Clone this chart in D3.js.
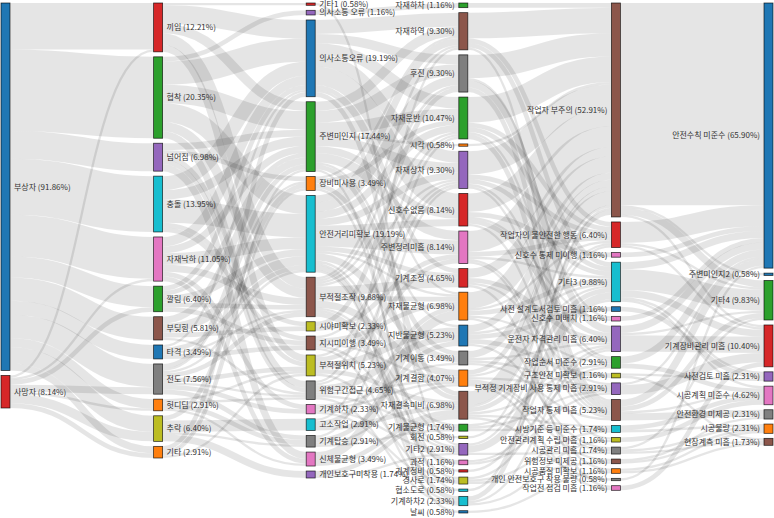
<!DOCTYPE html>
<html><head><meta charset="utf-8">
<script src="https://cdn.jsdelivr.net/npm/d3@7"></script>
<style>body{margin:0;background:#fff}svg{display:block}</style>
</head><body>
<svg id="chart" width="774" height="518"></svg>
<script>
// ---- nodes per column ----
const col1 = ["부상자","사망자"];
const col2 = ["끼임","협착","넘어짐","충돌","자재낙하","깔림","부딪힘","타격","전도","헛디딤","추락","기타"];
const col3 = ["기타1","의사소통 오류","의사소통오류","주변미인지","장비미사용","안전거리미확보","부적절조작","시야미확보","지시미이행","부적절위치","위험구간접근","기계하차","고소작업","기계탑승","신체불균형","개인보호구미착용"];
const col4 = ["자재하차","자재하역","후진","자재운반","시각","자재상차","신호수없음","주변정리미흡","기계조정","자재불균형","지반불균형","기계이동","기계결함","자재결속미비","기계불균형","회전","기타2","과적","기계정비","경사로","협소도로","기계하차2","날씨"];
const col5 = ["작업자 부주의","작업자의 불안전한 행동","신호수 통제 미이행","기타3","사전 설계도서검토 미흡","신호수 미배치","운전자 자격관리 미흡","작업순서 미준수","구조안전 미확보","부적정 기계장비 사용 통제 미흡","작업자 통제 미흡","시방기준 등 미준수","안전관리계획 수립 미흡","시공관리 미흡","위험정보 미제공","시공품질 미확보","개인 안전보호구 착용 불량","작업전 점검 미흡"];
const col6 = ["안전수칙 미준수","주변미인지2","기타4","기계장비관리 미흡","사전검토 미흡","시공계획 미준수","안전환경 미제공","시공불량","현장계측 미흡"];

// colour index into d3.schemeCategory10 (0 blue,1 orange,2 green,3 red,4 purple,5 brown,6 pink,7 gray,8 olive,9 cyan)
const col1Colors = [0,3];
const col2Colors = [3,2,4,9,6,2,5,0,7,1,8,1];
const col3Colors = [3,4,0,2,1,9,5,8,5,8,7,6,9,7,6,4];
const col4Colors = [2,5,7,2,1,4,3,6,3,1,0,7,1,5,2,8,4,6,3,8,9,9,0];
const col5Colors = [5,3,6,9,0,6,4,2,8,4,5,9,8,7,5,1,7,6];
const col6Colors = [0,0,2,3,4,6,7,1,5];

// ---- flows [source, target, count] ----
const links12 = [
 ["부상자","끼임",20],["부상자","협착",35],["부상자","넘어짐",12],["부상자","충돌",24],["부상자","자재낙하",18],["부상자","깔림",9],
 ["부상자","부딪힘",10],["부상자","타격",6],["부상자","전도",10],["부상자","헛디딤",4],["부상자","추락",7],["부상자","기타",3],
 ["사망자","끼임",1],["사망자","자재낙하",1],["사망자","깔림",2],["사망자","전도",3],["사망자","헛디딤",1],["사망자","추락",4],["사망자","기타",2]
];
const links23 = [
 ["끼임","기타1",1],["끼임","의사소통오류",8],["끼임","주변미인지",4],["끼임","부적절조작",5],["끼임","부적절위치",3],
 ["협착","의사소통 오류",2],["협착","의사소통오류",10],["협착","주변미인지",8],["협착","안전거리미확보",8],["협착","부적절조작",4],["협착","위험구간접근",3],
 ["넘어짐","주변미인지",3],["넘어짐","장비미사용",2],["넘어짐","부적절위치",2],["넘어짐","위험구간접근",2],["넘어짐","신체불균형",3],
 ["충돌","의사소통오류",6],["충돌","주변미인지",4],["충돌","안전거리미확보",10],["충돌","시야미확보",2],["충돌","지시미이행",2],
 ["자재낙하","의사소통오류",4],["자재낙하","주변미인지",3],["자재낙하","안전거리미확보",5],["자재낙하","부적절조작",3],["자재낙하","기계하차",2],["자재낙하","신체불균형",2],
 ["깔림","의사소통오류",2],["깔림","주변미인지",2],["깔림","안전거리미확보",3],["깔림","부적절조작",2],["깔림","지시미이행",2],
 ["부딪힘","주변미인지",3],["부딪힘","안전거리미확보",4],["부딪힘","시야미확보",2],["부딪힘","위험구간접근",1],
 ["타격","의사소통오류",1],["타격","안전거리미확보",2],["타격","부적절조작",1],["타격","지시미이행",2],
 ["전도","주변미인지",2],["전도","장비미사용",1],["전도","안전거리미확보",1],["전도","부적절조작",2],["전도","부적절위치",2],["전도","위험구간접근",1],["전도","기계하차",2],["전도","기계탑승",2],
 ["헛디딤","부적절위치",1],["헛디딤","위험구간접근",1],["헛디딤","기계탑승",2],["헛디딤","신체불균형",1],
 ["추락","장비미사용",2],["추락","고소작업",5],["추락","기계탑승",1],["추락","개인보호구미착용",3],
 ["기타","의사소통오류",2],["기타","주변미인지",1],["기타","장비미사용",1],["기타","부적절위치",1]
];
const links34 = [
 ["기타1","기타2",1],["의사소통 오류","자재하차",2],
 ["의사소통오류","자재하역",6],["의사소통오류","후진",4],["의사소통오류","자재운반",5],["의사소통오류","자재상차",5],["의사소통오류","신호수없음",8],["의사소통오류","기계조정",2],["의사소통오류","자재불균형",1],["의사소통오류","자재결속미비",2],
 ["주변미인지","자재하역",4],["주변미인지","후진",5],["주변미인지","자재운반",5],["주변미인지","시각",1],["주변미인지","자재상차",4],["주변미인지","신호수없음",3],["주변미인지","주변정리미흡",4],["주변미인지","지반불균형",1],["주변미인지","기계이동",2],["주변미인지","협소도로",1],
 ["장비미사용","자재하역",1],["장비미사용","자재운반",2],["장비미사용","자재결속미비",2],["장비미사용","기계정비",1],
 ["안전거리미확보","자재하역",3],["안전거리미확보","후진",4],["안전거리미확보","자재운반",3],["안전거리미확보","자재상차",3],["안전거리미확보","신호수없음",3],["안전거리미확보","주변정리미흡",6],["안전거리미확보","기계조정",2],["안전거리미확보","자재불균형",1],["안전거리미확보","기계이동",3],["안전거리미확보","회전",1],["안전거리미확보","경사로",1],["안전거리미확보","기계하차2",2],["안전거리미확보","날씨",1],
 ["부적절조작","자재하역",1],["부적절조작","후진",1],["부적절조작","자재운반",1],["부적절조작","자재상차",1],["부적절조작","기계조정",4],["부적절조작","자재불균형",2],["부적절조작","기계결함",3],["부적절조작","기계불균형",1],["부적절조작","기타2",1],["부적절조작","과적",2],
 ["시야미확보","후진",2],["시야미확보","주변정리미흡",2],
 ["지시미이행","자재상차",1],["지시미이행","자재불균형",2],["지시미이행","기계결함",1],["지시미이행","기타2",1],["지시미이행","기계하차2",1],
 ["부적절위치","자재운반",1],["부적절위치","주변정리미흡",2],["부적절위치","지반불균형",3],["부적절위치","자재결속미비",2],["부적절위치","경사로",1],
 ["위험구간접근","자재하역",1],["위험구간접근","자재상차",1],["위험구간접근","지반불균형",3],["위험구간접근","기계결함",1],["위험구간접근","기계불균형",1],["위험구간접근","기계하차2",1],
 ["기계하차","기계이동",1],["기계하차","기계결함",1],["기계하차","기타2",1],["기계하차","경사로",1],
 ["고소작업","자재운반",1],["고소작업","자재불균형",2],["고소작업","자재결속미비",2],
 ["기계탑승","자재상차",1],["기계탑승","지반불균형",2],["기계탑승","기계결함",1],["기계탑승","기계불균형",1],
 ["신체불균형","자재불균형",4],["신체불균형","자재결속미비",2],
 ["개인보호구미착용","자재결속미비",2],["개인보호구미착용","기타2",1]
];
const links45 = [
 ["자재하차","작업자 부주의",2],
 ["자재하역","작업자 부주의",11],["자재하역","작업자의 불안전한 행동",2],["자재하역","기타3",2],["자재하역","작업자 통제 미흡",1],
 ["후진","작업자 부주의",10],["후진","신호수 미배치",1],["후진","운전자 자격관리 미흡",3],["후진","작업자 통제 미흡",2],
 ["자재운반","작업자 부주의",11],["자재운반","작업자의 불안전한 행동",2],["자재운반","기타3",2],["자재운반","작업순서 미준수",1],["자재운반","작업자 통제 미흡",2],
 ["시각","작업자 부주의",1],
 ["자재상차","작업자 부주의",10],["자재상차","작업자의 불안전한 행동",2],["자재상차","기타3",2],["자재상차","작업순서 미준수",1],["자재상차","작업자 통제 미흡",1],
 ["신호수없음","작업자 부주의",8],["신호수없음","신호수 통제 미이행",2],["신호수없음","신호수 미배치",1],["신호수없음","운전자 자격관리 미흡",2],["신호수없음","작업자 통제 미흡",1],
 ["주변정리미흡","작업자 부주의",9],["주변정리미흡","작업자의 불안전한 행동",2],["주변정리미흡","기타3",1],["주변정리미흡","작업자 통제 미흡",1],["주변정리미흡","안전관리계획 수립 미흡",1],
 ["기계조정","작업자 부주의",4],["기계조정","운전자 자격관리 미흡",2],["기계조정","부적정 기계장비 사용 통제 미흡",1],["기계조정","작업전 점검 미흡",1],
 ["자재불균형","작업자 부주의",7],["자재불균형","작업자의 불안전한 행동",1],["자재불균형","기타3",2],["자재불균형","작업순서 미준수",1],["자재불균형","시공품질 미확보",1],
 ["지반불균형","작업자 부주의",3],["지반불균형","기타3",1],["지반불균형","사전 설계도서검토 미흡",2],["지반불균형","구조안전 미확보",2],["지반불균형","시공관리 미흡",1],
 ["기계이동","작업자 부주의",3],["기계이동","운전자 자격관리 미흡",1],["기계이동","부적정 기계장비 사용 통제 미흡",1],["기계이동","작업자 통제 미흡",1],
 ["기계결함","작업자 부주의",2],["기계결함","기타3",1],["기계결함","부적정 기계장비 사용 통제 미흡",1],["기계결함","시공관리 미흡",1],["기계결함","위험정보 미제공",1],["기계결함","작업전 점검 미흡",1],
 ["자재결속미비","작업자 부주의",6],["자재결속미비","작업자의 불안전한 행동",1],["자재결속미비","기타3",2],["자재결속미비","작업순서 미준수",1],["자재결속미비","시방기준 등 미준수",1],["자재결속미비","개인 안전보호구 착용 불량",1],
 ["기계불균형","운전자 자격관리 미흡",1],["기계불균형","부적정 기계장비 사용 통제 미흡",1],["기계불균형","시방기준 등 미준수",1],
 ["회전","작업자 부주의",1],
 ["기타2","작업자의 불안전한 행동",1],["기타2","기타3",3],["기타2","시공관리 미흡",1],
 ["과적","작업순서 미준수",1],["과적","부적정 기계장비 사용 통제 미흡",1],
 ["기계정비","기타3",1],
 ["경사로","운전자 자격관리 미흡",1],["경사로","시방기준 등 미준수",1],["경사로","위험정보 미제공",1],
 ["협소도로","작업자 부주의",1],
 ["기계하차2","작업자 부주의",2],["기계하차2","운전자 자격관리 미흡",1],["기계하차2","안전관리계획 수립 미흡",1],
 ["날씨","시공품질 미확보",1]
];
const links56 = [
 ["작업자 부주의","안전수칙 미준수",87],["작업자 부주의","주변미인지2",1],["작업자 부주의","기타4",3],["작업자 부주의","기계장비관리 미흡",1],
 ["작업자의 불안전한 행동","안전수칙 미준수",9],["작업자의 불안전한 행동","기타4",1],["작업자의 불안전한 행동","기계장비관리 미흡",1],
 ["신호수 통제 미이행","안전수칙 미준수",2],
 ["기타3","안전수칙 미준수",3],["기타3","기타4",9],["기타3","기계장비관리 미흡",3],["기타3","사전검토 미흡",1],["기타3","시공계획 미준수",1],
 ["사전 설계도서검토 미흡","사전검토 미흡",2],
 ["신호수 미배치","안전수칙 미준수",2],
 ["운전자 자격관리 미흡","안전수칙 미준수",3],["운전자 자격관리 미흡","기타4",1],["운전자 자격관리 미흡","기계장비관리 미흡",7],
 ["작업순서 미준수","안전수칙 미준수",3],["작업순서 미준수","시공계획 미준수",2],
 ["구조안전 미확보","사전검토 미흡",1],["구조안전 미확보","현장계측 미흡",1],
 ["부적정 기계장비 사용 통제 미흡","안전수칙 미준수",1],["부적정 기계장비 사용 통제 미흡","기계장비관리 미흡",4],
 ["작업자 통제 미흡","안전수칙 미준수",3],["작업자 통제 미흡","기타4",2],["작업자 통제 미흡","안전환경 미제공",3],["작업자 통제 미흡","시공계획 미준수",1],
 ["시방기준 등 미준수","시공계획 미준수",2],["시방기준 등 미준수","시공불량",1],
 ["안전관리계획 수립 미흡","시공계획 미준수",2],
 ["시공관리 미흡","기타4",1],["시공관리 미흡","시공불량",1],["시공관리 미흡","현장계측 미흡",1],
 ["위험정보 미제공","안전환경 미제공",1],["위험정보 미제공","시공불량",1],
 ["시공품질 미확보","시공불량",1],["시공품질 미확보","현장계측 미흡",1],
 ["개인 안전보호구 착용 불량","안전수칙 미준수",1],
 ["작업전 점검 미흡","기계장비관리 미흡",2]
];

// ---- layout ----
const W = 774, H = 518, NW = 9, PAD = 5;
const X0 = 1, X1 = 773, Y0 = 3, Y1 = 513;
const columns = [col1, col2, col3, col4, col5, col6];
const colColors = [col1Colors, col2Colors, col3Colors, col4Colors, col5Colors, col6Colors];
const stages = [links12, links23, links34, links45, links56];
const palette = d3.schemeCategory10;

const byName = new Map();
const nodes = [];
columns.forEach((names, ci) => names.forEach((name, i) => {
  const n = {name, col: ci, color: palette[colColors[ci][i]], sourceLinks: [], targetLinks: []};
  nodes.push(n); byName.set(name, n);
}));
const links = [];
stages.forEach(st => st.forEach(([s, t, v]) => {
  const l = {source: byName.get(s), target: byName.get(t), value: v};
  l.source.sourceLinks.push(l); l.target.targetLinks.push(l); links.push(l);
}));
nodes.forEach(n => {
  n.inV = d3.sum(n.targetLinks, l => l.value);
  n.outV = d3.sum(n.sourceLinks, l => l.value);
  n.value = Math.max(n.inV, n.outV);
  n.shown = n.targetLinks.length ? n.inV : n.outV;
});
const colTotals = columns.map(names => d3.sum(names, nm => byName.get(nm).shown));

const xPos = d3.scalePoint().domain(d3.range(columns.length)).range([X0, X1 - NW]);
const ky = d3.min(columns, names => (Y1 - Y0 - (names.length - 1) * PAD) / d3.sum(names, nm => byName.get(nm).value));
const hScale = d3.scaleLinear().domain([0, 1]).range([0, ky]);

columns.forEach((names, ci) => {
  let y = Y0;
  names.forEach(nm => {
    const n = byName.get(nm);
    n.x0 = xPos(ci); n.x1 = n.x0 + NW;
    n.y0 = y; n.y1 = y + hScale(n.value);
    y = n.y1 + PAD;
  });
});
links.forEach(l => l.width = hScale(l.value));
nodes.forEach(n => {
  n.sourceLinks.sort((a, b) => a.target.y0 - b.target.y0);
  n.targetLinks.sort((a, b) => a.source.y0 - b.source.y0);
  let y = n.y0;
  n.sourceLinks.forEach(l => { l.ly0 = y + l.width / 2; y += l.width; });
  y = n.y0;
  n.targetLinks.forEach(l => { l.ly1 = y + l.width / 2; y += l.width; });
});

// ---- draw ----
const svg = d3.select("#chart").attr("viewBox", [0, 0, W, H]);
const linkPath = d3.linkHorizontal()
  .source(d => [d.source.x1, d.ly0])
  .target(d => [d.target.x0, d.ly1]);

svg.append("g")
  .attr("fill", "none")
  .attr("stroke", "#000")
  .attr("stroke-opacity", 0.1)
  .selectAll("path")
  .data(links)
  .join("path")
  .attr("d", linkPath)
  .attr("stroke-width", d => Math.max(1, d.width));

svg.append("g")
  .selectAll("rect")
  .data(nodes)
  .join("rect")
  .attr("x", d => d.x0)
  .attr("y", d => d.y0)
  .attr("width", d => d.x1 - d.x0)
  .attr("height", d => Math.max(1, d.y1 - d.y0))
  .attr("fill", d => d.color)
  .attr("stroke", "#000")
  .attr("stroke-opacity", 0.75)
  .attr("stroke-width", 0.8);

svg.append("g")
  .attr("font-family", "'Noto Sans CJK KR', 'Noto Sans', sans-serif")
  .attr("font-size", 8)
  .attr("fill", "#333")
  .selectAll("text")
  .data(nodes)
  .join("text")
  .attr("x", d => d.x0 < W / 2 ? d.x1 + 4 : d.x0 - 4)
  .attr("y", d => (d.y0 + d.y1) / 2)
  .attr("dy", "0.35em")
  .attr("text-anchor", d => d.x0 < W / 2 ? "start" : "end")
  .text(d => `${d.name} (${(d.shown / colTotals[d.col] * 100).toFixed(2)}%)`);
</script>
</body></html>
